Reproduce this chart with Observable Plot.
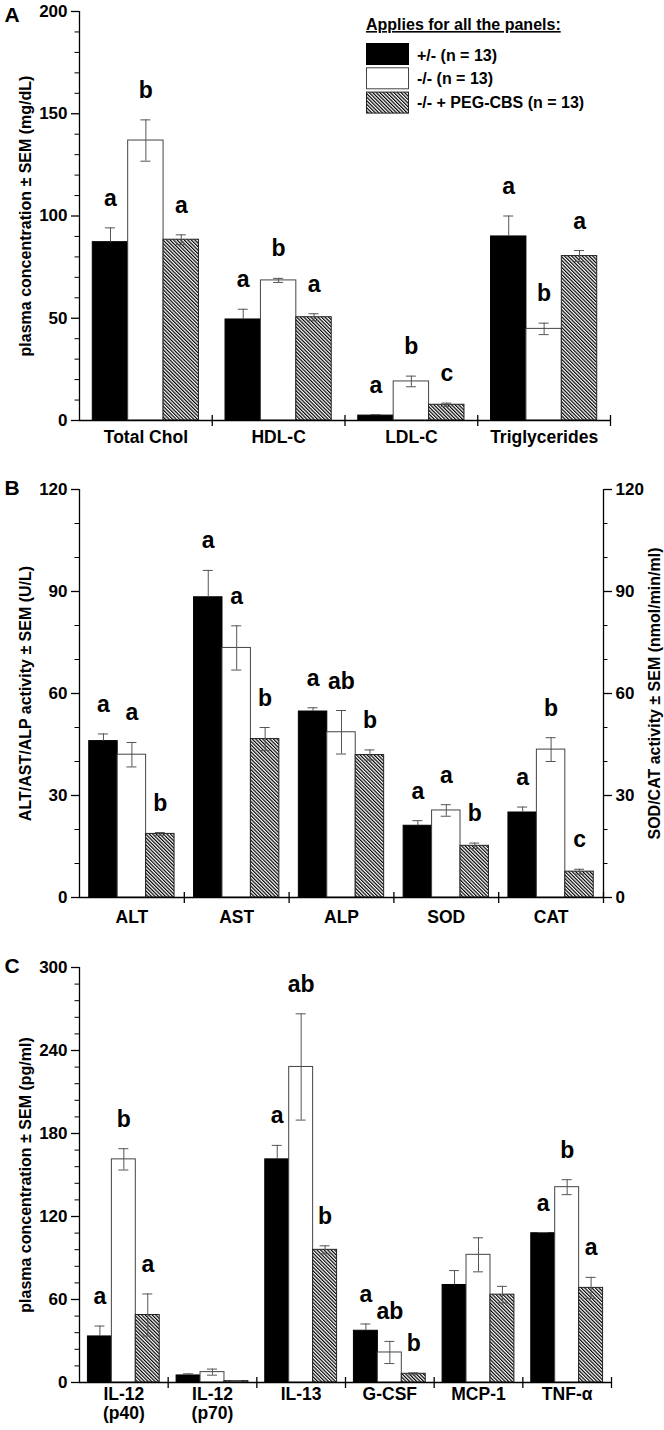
<!DOCTYPE html>
<html><head><meta charset="utf-8">
<script src="https://cdn.jsdelivr.net/npm/d3@7"></script>
<script src="https://cdn.jsdelivr.net/npm/@observablehq/plot@0.6"></script>
<style>
body{margin:0;background:#fff;}
#chart svg{display:block;}
</style>
</head><body><div id="chart"></div>
<script>
// ---------- data ----------
const seriesNames = ["+/- (n = 13)", "-/- (n = 13)", "-/- + PEG-CBS (n = 13)"];
const legendTitle = "Applies for all the panels:";

// Panel A
const catsA = ["Total Chol", "HDL-C", "LDL-C", "Triglycerides"];
const meanA_het = [87.2, 49.4, 2.4, 90.0];
const semA_het  = [7.0, 5.0, 0.5, 10.0];
const meanA_ko  = [136.9, 68.5, 19.1, 44.8];
const semA_ko   = [10.1, 1.0, 2.6, 2.8];
const meanA_peg = [88.4, 50.5, 7.7, 80.4];
const semA_peg  = [2.4, 1.7, 0.8, 2.7];
const letA_het  = ["a", "a", "a", "a"];
const letA_ko   = ["b", "b", "b", "b"];
const letA_peg  = ["a", "a", "c", "a"];
const ticksA = [0, 50, 100, 150, 200];
const yLabelA = "plasma concentration ± SEM (mg/dL)";

// Panel B
const catsB = ["ALT", "AST", "ALP", "SOD", "CAT"];
const meanB_het = [46.0, 88.3, 54.7, 21.1, 25.0];
const semB_het  = [2.1, 7.9, 1.1, 1.5, 1.6];
const meanB_ko  = [42.0, 73.4, 48.6, 25.6, 43.5];
const semB_ko   = [3.6, 6.5, 6.4, 1.7, 3.5];
const meanB_peg = [18.7, 46.6, 41.9, 15.2, 7.6];
const semB_peg  = [0.4, 3.4, 1.5, 0.8, 0.7];
const letB_het  = ["a", "a", "a", "a", "a"];
const letB_ko   = ["a", "a", "ab", "a", "b"];
const letB_peg  = ["b", "b", "b", "b", "c"];
const ticksB = [0, 30, 60, 90, 120];
const yLabelB = "ALT/AST/ALP activity ± SEM (U/L)";
const yLabelB2 = "SOD/CAT activity ± SEM (nmol/min/ml)";

// Panel C
const catsC = ["IL-12\n(p40)", "IL-12\n(p70)", "IL-13", "G-CSF", "MCP-1", "TNF-α"];
const meanC_het = [33.3, 5.1, 161.3, 37.4, 70.5, 107.9];
const semC_het  = [7.5, 1.2, 10.1, 4.9, 10.4, 0.5];
const meanC_ko  = [161.3, 7.5, 228.1, 21.7, 92.3, 141.2];
const semC_ko   = [7.7, 2.2, 38.4, 8.0, 12.3, 5.4];
const meanC_peg = [48.8, 1.0, 95.9, 6.3, 63.5, 68.4];
const semC_peg  = [15.2, 0.3, 2.9, 0.7, 6.0, 7.6];
const letC_het  = ["a", "", "a", "a", "", "a"];
const letC_ko   = ["b", "", "ab", "ab", "", "b"];
const letC_peg  = ["a", "", "b", "b", "", "a"];
const ticksC = [0, 60, 120, 180, 240, 300];
const yLabelC = "plasma concentration ± SEM (pg/ml)";

// ---------- drawing ----------
const FONT = "'Liberation Sans', Arial, Helvetica, sans-serif";
const strokes = ["black", "#444", "#222"];
const errColor = "#555";

function hatchDefs(id) {
  return () => {
    const defs = d3.create("svg:defs");
    const p = defs.append("pattern").attr("id", id)
      .attr("patternUnits", "userSpaceOnUse")
      .attr("width", 2.5).attr("height", 2.5)
      .attr("patternTransform", "rotate(-45)");
    p.append("rect").attr("width", 2.5).attr("height", 2.5).attr("fill", "white");
    p.append("rect").attr("width", 1.2).attr("height", 2.5).attr("fill", "#000");
    return defs.node();
  };
}

function legendMark(fills) {
  return () => {
    const g = d3.create("svg:g").attr("font-family", FONT).attr("font-weight", "bold")
      .attr("fill", "black").attr("text-anchor", "start");
    g.append("text").attr("x", 366).attr("y", 30).attr("font-size", 16)
      .attr("text-decoration", "underline").text(legendTitle);
    seriesNames.forEach((name, i) => {
      g.append("rect").attr("x", 366.5).attr("y", 43.5 + i * 24.3)
        .attr("width", 42).attr("height", 21)
        .attr("fill", fills[i]).attr("stroke", strokes[i]).attr("stroke-width", 1);
      g.append("text").attr("x", 417).attr("y", 60.5 + i * 23.7)
        .attr("font-size", 16).text(name);
    });
    return g.node();
  };
}

function panel(cfg) {
  const {id, cats, means, sems, letters, pad, height, m, ymax, major, minorStep,
         yLabel, yLabel2, panelLetter, letterDy, catPad, withLegend} = cfg;
  const n = cats.length;
  const bw = (1 - 2 * pad) / 3;
  const fills = ["black", "white", `url(#hatch-${id})`];
  const rows = [];
  cats.forEach((c, ci) => [0, 1, 2].forEach(si => {
    const x1 = ci + pad + si * bw;
    rows.push({cat: c, ci, si, x1, x2: x1 + bw, xc: x1 + bw / 2,
               mean: means[si][ci], sem: sems[si][ci], letter: letters[si][ci]});
  }));
  const minor = d3.range(0, ymax + 1e-9, minorStep).filter(v => !major.includes(v));
  const centers = cats.map((c, i) => i + 0.5);

  const marks = [
    hatchDefs(`hatch-${id}`),
    ...[0, 1, 2].map(si => Plot.rect(rows.filter(d => d.si === si), {
      x1: "x1", x2: "x2", y1: 0, y2: "mean",
      fill: fills[si], stroke: strokes[si], strokeWidth: 1
    })),
    Plot.ruleX(rows, {x: "xc", y1: d => d.si === 0 ? d.mean : d.mean - d.sem, y2: d => d.mean + d.sem, stroke: errColor}),
    Plot.ruleY(rows, {x1: "xc", x2: "xc", y: d => d.mean + d.sem, insetLeft: -5, insetRight: -5, stroke: errColor}),
    Plot.ruleY(rows.filter(d => d.si > 0), {x1: "xc", x2: "xc", y: d => d.mean - d.sem, insetLeft: -5, insetRight: -5, stroke: errColor}),
    Plot.ruleX([0], {strokeWidth: 1.3}),
    Plot.ruleY([0], {strokeWidth: 1.3}),
    Plot.ruleX(d3.range(1, n + 1), {x: d => d, y1: 0, y2: 0, insetTop: -5, insetBottom: -6, strokeWidth: 1.3}),
    Plot.axisY(major, {label: null, tickSize: 8, tickPadding: 4, fontSize: 17, strokeWidth: 1.3}),
    Plot.ruleY(minor, {y: d => d, x1: 0, x2: 0, insetLeft: -4.5}),
    Plot.axisX(centers, {label: null, tickSize: 0, tickPadding: catPad, fontSize: 17.5, lineHeight: 1.1,
      tickFormat: d => cats[Math.floor(d)]}),
    Plot.text(rows.filter(d => d.letter), {x: "xc", y: d => d.mean + d.sem, text: "letter",
      dy: -22, lineAnchor: "bottom", fontSize: 23}),
    Plot.text([yLabel], {text: d => d, frameAnchor: "left", textAnchor: "middle", lineAnchor: "middle",
      rotate: -90, dx: -54, fontSize: 16}),
    Plot.text([panelLetter], {text: d => d, frameAnchor: "top-left", textAnchor: "start", lineAnchor: "top",
      dx: -75, dy: letterDy, fontSize: 21})
  ];
  if (yLabel2) {
    marks.push(
      Plot.ruleX([n], {strokeWidth: 1.3}),
      Plot.axisY(major, {anchor: "right", label: null, tickSize: 8, tickPadding: 4, fontSize: 17, strokeWidth: 1.3}),
      Plot.ruleY(minor, {y: d => d, x1: n, x2: n, insetRight: -4.5}),
      Plot.text([yLabel2], {text: d => d, frameAnchor: "right", textAnchor: "middle", lineAnchor: "middle",
        rotate: -90, dx: 51, fontSize: 16})
    );
  }
  if (withLegend) marks.push(legendMark(fills));

  return Plot.plot({
    width: 664, height,
    marginTop: m[0], marginRight: m[1], marginBottom: m[2], marginLeft: m[3],
    x: {domain: [0, n], axis: null},
    y: {domain: [0, ymax], axis: null},
    style: {fontFamily: FONT, fontWeight: "bold", fontSize: "17px", color: "black", background: "white", overflow: "visible"},
    marks
  });
}

const root = document.getElementById("chart");
root.append(panel({
  id: "A", cats: catsA,
  means: [meanA_het, meanA_ko, meanA_peg], sems: [semA_het, semA_ko, semA_peg],
  letters: [letA_het, letA_ko, letA_peg],
  pad: 0.1, height: 470, m: [11, 54, 50, 79], ymax: 200, major: ticksA, minorStep: 10,
  yLabel: yLabelA, panelLetter: "A", letterDy: -4, catPad: 9, withLegend: true
}));
root.append(panel({
  id: "B", cats: catsB,
  means: [meanB_het, meanB_ko, meanB_peg], sems: [semB_het, semB_ko, semB_peg],
  letters: [letB_het, letB_ko, letB_peg],
  pad: 0.093, height: 485, m: [19, 61, 58, 79], ymax: 120, major: ticksB, minorStep: 10,
  yLabel: yLabelB, yLabel2: yLabelB2, panelLetter: "B", letterDy: -9, catPad: 12
}));
root.append(panel({
  id: "C", cats: catsC,
  means: [meanC_het, meanC_ko, meanC_peg], sems: [semC_het, semC_ko, semC_peg],
  letters: [letC_het, letC_ko, letC_peg],
  pad: 0.095, height: 475, m: [12, 53, 48, 79], ymax: 300, major: ticksC, minorStep: 12,
  yLabel: yLabelC, panelLetter: "C", letterDy: -9, catPad: 4
}));
</script></body></html>
